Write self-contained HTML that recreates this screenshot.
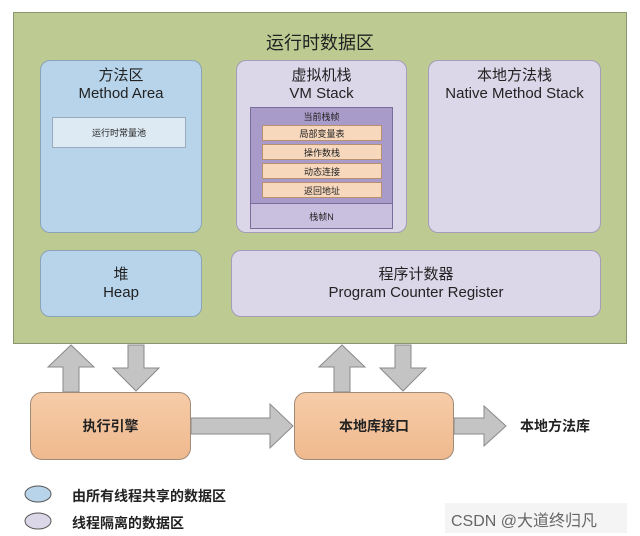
<!DOCTYPE html>
<html><head><meta charset="utf-8"><style>
body{margin:0;width:640px;height:536px;background:#fff;position:relative;overflow:hidden;font-family:"Liberation Sans","Noto Sans CJK SC",sans-serif;}
div{position:absolute;box-sizing:border-box}
.c{display:flex;flex-direction:column;align-items:center;justify-content:center;text-align:center;color:#222}
</style></head><body>
<div style="left:13px;top:12px;width:614px;height:332px;background:#bdcb92;border:1px solid #8a9670"></div>
<div class="c" style="left:13px;top:30px;width:614px;height:24px;font-size:18px">运行时数据区</div>

<div class="c" style="left:40px;top:60px;width:162px;height:173px;background:#b8d4ea;border:1px solid #8aa3b8;border-radius:10px;justify-content:flex-start;padding-top:6px;font-size:15px;line-height:18px">方法区<br>Method Area</div>
<div class="c" style="left:52px;top:117px;width:134px;height:31px;background:#dde9f3;border:1px solid #9ab;font-size:9px">运行时常量池</div>

<div class="c" style="left:236px;top:60px;width:171px;height:173px;background:#dcd6e9;border:1px solid #a49cb8;border-radius:10px;justify-content:flex-start;padding-top:6px;font-size:15px;line-height:18px">虚拟机栈<br>VM Stack</div>
<div style="left:250px;top:107px;width:143px;height:122px;background:#a99bc9;border:1px solid #7a6d99"></div>
<div class="c" style="left:251px;top:108px;width:141px;height:16px;font-size:9px">当前栈帧</div>
<div class="c" style="left:262px;top:125px;width:120px;height:16px;background:#f7d8bd;border:1px solid #b89070;font-size:9px">局部变量表</div>
<div class="c" style="left:262px;top:144px;width:120px;height:16px;background:#f7d8bd;border:1px solid #b89070;font-size:9px">操作数栈</div>
<div class="c" style="left:262px;top:163px;width:120px;height:16px;background:#f7d8bd;border:1px solid #b89070;font-size:9px">动态连接</div>
<div class="c" style="left:262px;top:182px;width:120px;height:16px;background:#f7d8bd;border:1px solid #b89070;font-size:9px">返回地址</div>
<div class="c" style="left:251px;top:203px;width:141px;height:25px;background:#c9c0df;border-top:1px solid #7a6d99;font-size:9px">栈帧N</div>

<div class="c" style="left:428px;top:60px;width:173px;height:173px;background:#dcd6e9;border:1px solid #a49cb8;border-radius:10px;justify-content:flex-start;padding-top:6px;font-size:15px;line-height:18px">本地方法栈<br>Native Method Stack</div>

<div class="c" style="left:40px;top:250px;width:162px;height:67px;background:#b8d4ea;border:1px solid #8aa3b8;border-radius:10px;font-size:15px;line-height:18px">堆<br>Heap</div>
<div class="c" style="left:231px;top:250px;width:370px;height:67px;background:#dcd6e9;border:1px solid #a49cb8;border-radius:10px;font-size:15px;line-height:18px">程序计数器<br>Program Counter Register</div>

<svg style="position:absolute;left:0;top:0" width="640" height="536">
<g fill="#c4c4c4" stroke="#8a8a8a" stroke-width="1">
<polygon points="63,392 63,367 48,367 71,345 94,367 79,367 79,392"/>
<polygon points="128,345 144,345 144,368 159,368 136,391 113,368 128,368"/>
<polygon points="334,392 334,367 319,367 342,345 365,367 350,367 350,392"/>
<polygon points="395,345 411,345 411,368 426,368 403,391 380,368 395,368"/>
<polygon points="191,418 270,418 270,404 293,426 270,448 270,434 191,434"/>
<polygon points="454,418 484,418 484,406 506,426 484,446 484,434 454,434"/>
</g>
<ellipse cx="38" cy="494" rx="13" ry="8" fill="#b8d4ea" stroke="#555"/>
<ellipse cx="38" cy="521" rx="13" ry="8" fill="#dcd6e9" stroke="#555"/>
</svg>

<div class="c" style="left:30px;top:392px;width:161px;height:68px;background:linear-gradient(#f6cca8,#efb98e);border:1px solid #a08a78;border-radius:12px;font-size:14px;font-weight:bold">执行引擎</div>
<div class="c" style="left:294px;top:392px;width:160px;height:68px;background:linear-gradient(#f6cca8,#efb98e);border:1px solid #a08a78;border-radius:12px;font-size:14px;font-weight:bold">本地库接口</div>
<div style="left:520px;top:416px;font-size:14px;font-weight:bold;color:#222">本地方法库</div>
<div style="left:72px;top:486px;font-size:14px;font-weight:bold;color:#222">由所有线程共享的数据区</div>
<div style="left:72px;top:513px;font-size:14px;font-weight:bold;color:#222">线程隔离的数据区</div>
<div style="left:445px;top:503px;width:182px;height:30px;background:#f4f4f4"></div>
<div style="left:451px;top:507px;font-size:16px;color:#666">CSDN @大道终归凡</div>
</body></html>
